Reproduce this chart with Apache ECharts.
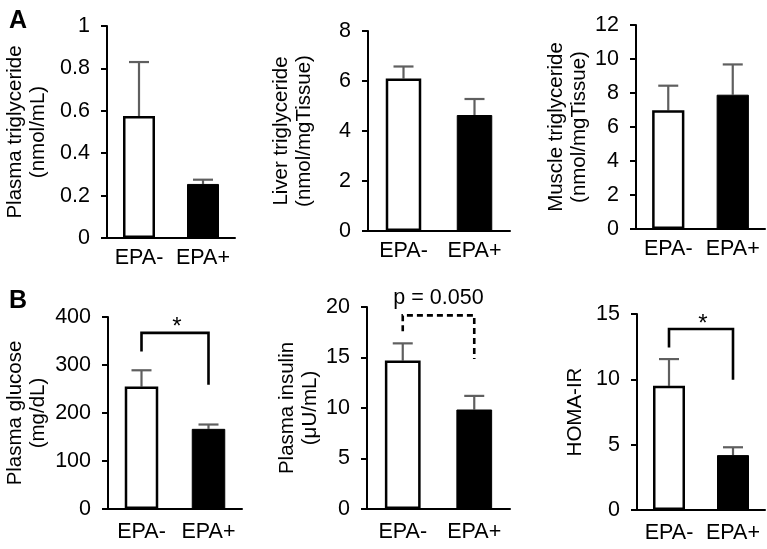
<!DOCTYPE html>
<html>
<head>
<meta charset="utf-8">
<script src="https://cdn.jsdelivr.net/npm/echarts@6/dist/echarts.min.js"></script>
<style>html,body{margin:0;padding:0;background:#fff}#c{width:767px;height:549px}</style>
</head>
<body>
<div id="c"></div>
<script>
// ---- data ----
const categories = ['EPA-', 'EPA+'];

const plasmaTG = [0.575, 0.255];
const plasmaTGErr = [0.255, 0.02];
const liverTG = [6.1, 4.64];
const liverTGErr = [0.48, 0.64];
const muscleTG = [6.98, 7.9];
const muscleTGErr = [1.45, 1.78];
const glucose = [255, 167];
const glucoseErr = [34, 9];
const insulin = [14.7, 9.85];
const insulinErr = [1.7, 1.35];
const homa = [9.5, 4.2];
const homaErr = [2.05, 0.6];

// brackets: [top, left leg bottom, right leg bottom]
const glucoseBracket = [367, 328, 259];
const insulinBracket = [19.17, 17.6, 14.85];
const homaBracket = [13.85, 12.44, 9.96];
const glucoseSig = '*';
const insulinSig = 'p = 0.050';
const homaSig = '*';

// axis ranges [min, max, interval]
const yRanges = [[0, 1, 0.2], [0, 8, 2], [0, 12, 2], [0, 400, 100], [0, 20, 5], [0, 15, 5]];
const yNames = [
  'Plasma triglyceride\n(nmol/mL)',
  'Liver triglyceride\n(nmol/mgTissue)',
  'Muscle triglyceride\n(nmol/mgTissue)',
  'Plasma glucose\n(mg/dL)',
  'Plasma insulin\n(μU/mL)',
  'HOMA-IR'
];

// ---- layout ----
const FONT = "'Liberation Sans', Arial, sans-serif";
const FS = 20.5;
const TFS = 21.5;
const grids = [
  {left: 107, top: 26, width: 128, height: 212},
  {left: 368, top: 31, width: 142, height: 200},
  {left: 636, top: 25, width: 129, height: 204},
  {left: 108, top: 317, width: 134, height: 192},
  {left: 367, top: 307, width: 143, height: 202},
  {left: 637, top: 314, width: 128, height: 196}
];
const nameGaps = [57, 52, 45, 58, 45, 50];
const xMargins = [9, 9, 9, 12, 12, 12];
const values = [plasmaTG, liverTG, muscleTG, glucose, insulin, homa];
const errs = [plasmaTGErr, liverTGErr, muscleTGErr, glucoseErr, insulinErr, homaErr];
const brackets = [null, null, null, [glucoseBracket, glucoseSig, false], [insulinBracket, insulinSig, true], [homaBracket, homaSig, false]];

const xAxis = [], yAxis = [], series = [];
grids.forEach((g, i) => {
  xAxis.push({
    type: 'category', gridIndex: i, data: categories,
    axisLine: {lineStyle: {color: '#000', width: 2}},
    axisTick: {show: false},
    axisLabel: {color: '#000', fontSize: TFS, fontFamily: FONT, margin: xMargins[i], interval: 0, hideOverlap: false}
  });
  const r = yRanges[i];
  yAxis.push({
    type: 'value', gridIndex: i, min: r[0], max: r[1], interval: r[2],
    name: yNames[i], nameLocation: 'middle', nameGap: nameGaps[i], nameRotate: 90,
    nameTextStyle: {color: '#000', fontSize: FS, fontFamily: FONT, lineHeight: 23},
    axisLine: {show: true, lineStyle: {color: '#000', width: 2}},
    axisTick: {show: true, length: 6, lineStyle: {color: '#000', width: 2}},
    splitLine: {show: false},
    axisLabel: {color: '#000', fontSize: TFS, fontFamily: FONT, margin: 17}
  });
  series.push({
    type: 'bar', xAxisIndex: i, yAxisIndex: i, barWidth: '50%',
    data: values[i].map((v, k) => ({
      value: v,
      itemStyle: k === 0 ? {color: '#fff', borderColor: '#000', borderWidth: 2.5} : {color: '#000', borderColor: '#000', borderWidth: 1}
    })),
    z: 2
  });
  series.push({
    type: 'custom', xAxisIndex: i, yAxisIndex: i, z: 1,
    data: values[i].map((v, k) => [k, v, v + errs[i][k]]),
    renderItem: function (params, api) {
      const x = api.value(0);
      const p1 = api.coord([x, api.value(1)]);
      const p2 = api.coord([x, api.value(2)]);
      const w = 10;
      const st = {stroke: '#5f5f5f', lineWidth: 2.2};
      return {type: 'group', children: [
        {type: 'line', shape: {x1: p1[0], y1: p1[1], x2: p2[0], y2: p2[1]}, style: st},
        {type: 'line', shape: {x1: p2[0] - w, y1: p2[1], x2: p2[0] + w, y2: p2[1]}, style: st}
      ]};
    }
  });
  const b = brackets[i];
  if (b) {
    const sig = b[1], dashed = b[2];
    series.push({
      type: 'custom', xAxisIndex: i, yAxisIndex: i, z: 3,
      data: [[0, b[0][0], b[0][1], b[0][2], 1]],
      renderItem: function (params, api) {
        const top = api.value(1), yl = api.value(2), yr = api.value(3);
        const a = api.coord([api.value(0), yl]);
        const bb = api.coord([api.value(0), top]);
        const c = api.coord([api.value(4), top]);
        const d = api.coord([api.value(4), yr]);
        const isStar = sig === '*';
        return {type: 'group', children: [
          {type: 'polyline', shape: {points: [a, bb, c, d]},
            style: {stroke: '#000', lineWidth: 2.6, fill: null, lineDash: dashed ? [6, 4] : null}},
          {type: 'text', style: {
            text: sig, x: (bb[0] + c[0]) / 2 + (isStar ? 2 : 0), y: isStar ? bb[1] - 5 : bb[1] - 6,
            align: 'center', verticalAlign: isStar ? 'middle' : 'bottom',
            fontSize: isStar ? 24 : TFS, fontFamily: FONT, fill: '#000'
          }}
        ]};
      }
    });
  }
});

const chart = echarts.init(document.getElementById('c'), null, {renderer: 'canvas'});
chart.setOption({
  animation: false,
  backgroundColor: '#fff',
  title: [
    {text: 'A', left: 4, top: 4, textStyle: {fontSize: 25, fontWeight: 'bold', color: '#000', fontFamily: FONT}},
    {text: 'B', left: 4, top: 284, textStyle: {fontSize: 25, fontWeight: 'bold', color: '#000', fontFamily: FONT}}
  ],
  grid: grids,
  xAxis: xAxis,
  yAxis: yAxis,
  series: series
});
</script>
</body>
</html>
